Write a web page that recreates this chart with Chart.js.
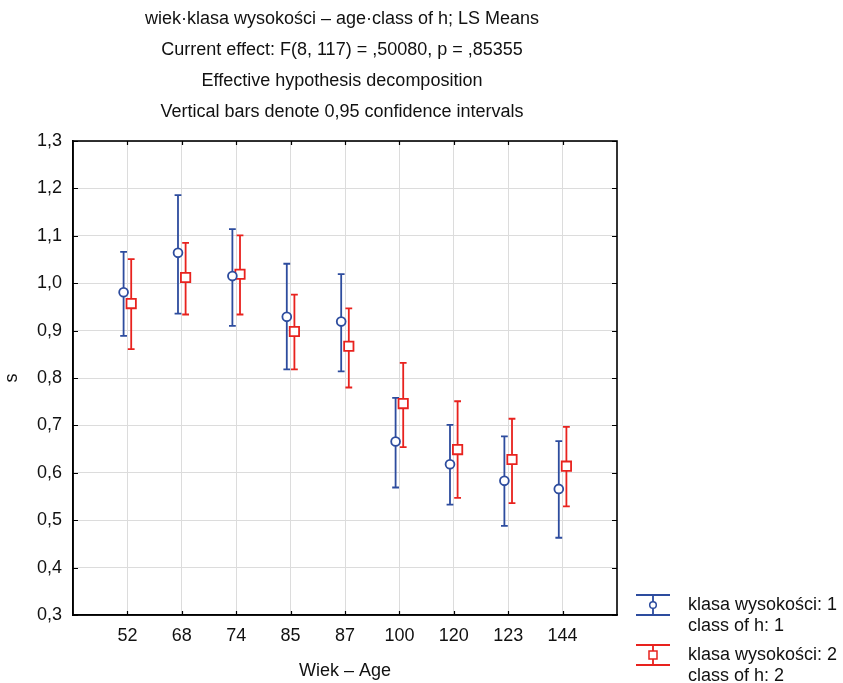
<!DOCTYPE html>
<html>
<head>
<meta charset="utf-8">
<script src="https://cdn.jsdelivr.net/npm/chart.js@4/dist/chart.umd.min.js"></script>
<style>
  html, body { margin: 0; padding: 0; background: #fff; }
  #wrap { width: 843px; height: 683px; position: relative; }
</style>
</head>
<body>
<div id="wrap"><canvas id="c"></canvas></div>
<script>
// ── 数据 ──
const ages  = ['52', '68', '74', '85', '87', '100', '120', '123', '144'];
const mean1 = [0.981, 1.064, 1.015, 0.929, 0.919, 0.666, 0.618, 0.583, 0.566];
const low1  = [0.889, 0.936, 0.910, 0.818, 0.814, 0.569, 0.533, 0.488, 0.463];
const high1 = [1.066, 1.186, 1.114, 1.041, 1.019, 0.758, 0.701, 0.677, 0.667];
const mean2 = [0.957, 1.012, 1.019, 0.898, 0.867, 0.746, 0.649, 0.628, 0.614];
const low2  = [0.861, 0.934, 0.934, 0.818, 0.780, 0.654, 0.547, 0.536, 0.529];
const high2 = [1.051, 1.085, 1.101, 0.976, 0.947, 0.832, 0.751, 0.714, 0.697];
const yTicks = [0.3, 0.4, 0.5, 0.6, 0.7, 0.8, 0.9, 1.0, 1.1, 1.2, 1.3];

const titleLines = [
  'wiek·klasa wysokości – age·class of h; LS Means',
  'Current effect: F(8, 117) = ,50080, p = ,85355',
  'Effective hypothesis decomposition',
  'Vertical bars denote 0,95 confidence intervals',
];
const legendLabels = [
  ['klasa wysokości: 1', 'class of h: 1'],
  ['klasa wysokości: 2', 'class of h: 2'],
];

const BLUE = '#2d4c9e';
const RED  = '#e8221e';
const FONT = '"Liberation Sans", Arial, sans-serif';
const FS = 18;
const SHIFT = 0.07;   // 两组在同一类别内的水平错开

const fmtComma = v => v.toFixed(1).replace('.', ',');

const errLo = [low1, low2];
const errHi = [high1, high2];

// 误差棒 + 内向刻度 + 边框 + 标题 + 图例
const decoPlugin = {
  id: 'deco',
  beforeDatasetsDraw(chart) {
    const { ctx, scales: { x, y } } = chart;
    ctx.save();
    chart.data.datasets.forEach((ds, di) => {
      ctx.strokeStyle = ds.borderColor;
      ctx.lineWidth = 1.8;
      ds.data.forEach((p, i) => {
        const px = x.getPixelForValue(p.x);
        const yt = y.getPixelForValue(errHi[di][i]);
        const yb = y.getPixelForValue(errLo[di][i]);
        ctx.beginPath();
        ctx.moveTo(px, yt); ctx.lineTo(px, yb);
        ctx.moveTo(px - 3.4, yt); ctx.lineTo(px + 3.4, yt);
        ctx.moveTo(px - 3.4, yb); ctx.lineTo(px + 3.4, yb);
        ctx.stroke();
      });
    });
    ctx.restore();
  },
  afterDraw(chart) {
    const { ctx, chartArea: a, scales: { x, y } } = chart;
    ctx.save();
    // 边框
    ctx.strokeStyle = '#000';
    ctx.lineWidth = 1.6;
    ctx.strokeRect(a.left, a.top, a.right - a.left, a.bottom - a.top);
    // 内向刻度
    ctx.lineWidth = 1.2;
    ctx.beginPath();
    x.ticks.forEach(t => {
      if (t.value < 1 || t.value > ages.length) return;
      const px = Math.round(x.getPixelForValue(t.value)) + 0.5;
      ctx.moveTo(px, a.bottom); ctx.lineTo(px, a.bottom - 4);
      ctx.moveTo(px, a.top);    ctx.lineTo(px, a.top + 4);
    });
    yTicks.forEach(v => {
      const py = Math.round(y.getPixelForValue(v)) + 0.5;
      ctx.moveTo(a.left, py);  ctx.lineTo(a.left + 5, py);
      ctx.moveTo(a.right, py); ctx.lineTo(a.right - 5, py);
    });
    ctx.stroke();

    // 标题
    ctx.fillStyle = '#111';
    ctx.font = FS + 'px ' + FONT;
    ctx.textAlign = 'center';
    ctx.textBaseline = 'middle';
    const cx = (a.left + a.right) / 2 - 3;
    titleLines.forEach((s, i) => ctx.fillText(s, cx, 19 + i * 31));

    // 图例
    const colors = [BLUE, RED];
    ctx.textAlign = 'left';
    [605, 655].forEach((cy, i) => {
      ctx.strokeStyle = colors[i];
      ctx.lineWidth = 1.8;
      ctx.beginPath();
      ctx.moveTo(636, cy - 10); ctx.lineTo(670, cy - 10);
      ctx.moveTo(636, cy + 10); ctx.lineTo(670, cy + 10);
      ctx.moveTo(653, cy - 10); ctx.lineTo(653, cy + 10);
      ctx.stroke();
      ctx.fillStyle = '#fff';
      ctx.lineWidth = 1.5;
      ctx.beginPath();
      if (i === 0) ctx.arc(653, cy, 3.3, 0, Math.PI * 2);
      else ctx.rect(649, cy - 4, 8, 8);
      ctx.fill(); ctx.stroke();
      ctx.fillStyle = '#111';
      ctx.fillText(legendLabels[i][0], 688, cy);
      ctx.fillText(legendLabels[i][1], 688, cy + 21);
    });
    ctx.restore();
  },
};

new Chart(document.getElementById('c'), {
  type: 'scatter',
  data: {
    datasets: [
      {
        label: 'klasa wysokości: 1',
        data: ages.map((a, i) => ({ x: i + 1 - SHIFT, y: mean1[i] })),
        pointStyle: 'circle',
        pointRadius: 4.4,
        borderWidth: 1.8,
        borderColor: BLUE,
        backgroundColor: '#fff',
      },
      {
        label: 'klasa wysokości: 2',
        data: ages.map((a, i) => ({ x: i + 1 + SHIFT, y: mean2[i] })),
        pointStyle: 'rect',
        pointRadius: 6.6,
        borderWidth: 1.8,
        borderColor: RED,
        backgroundColor: '#fff',
      },
    ],
  },
  options: {
    responsive: true,
    maintainAspectRatio: false,
    devicePixelRatio: 1,
    animation: false,
    layout: { padding: { top: 141, right: 226, left: 0, bottom: 0 } },
    plugins: { legend: { display: false }, tooltip: { enabled: false }, title: { display: false } },
    scales: {
      x: {
        type: 'linear',
        min: 0, max: ages.length + 1,
        afterFit: s => { s.height = 68; },
        afterBuildTicks: s => { s.ticks = ages.map((a, i) => ({ value: i + 1 })); },
        ticks: {
          stepSize: 1,
          autoSkip: false,
          maxRotation: 0,
          padding: 10,
          color: '#111',
          font: { family: FONT, size: FS },
          callback: v => ages[v - 1] ?? '',
        },
        grid: { color: '#dcdcdc', lineWidth: 1, drawTicks: false },
        border: { display: true, color: '#000', width: 1.6 },
        title: {
          display: true, text: 'Wiek – Age', color: '#111',
          font: { family: FONT, size: FS }, padding: { top: 0, bottom: 1 },
        },
      },
      y: {
        min: 0.3, max: 1.3,
        afterFit: s => { s.width = 73; },
        afterBuildTicks: s => { s.ticks = yTicks.map(v => ({ value: v })); },
        ticks: {
          padding: 11,
          color: '#111',
          font: { family: FONT, size: FS },
          callback: v => fmtComma(v),
        },
        grid: { color: '#dcdcdc', lineWidth: 1, drawTicks: false },
        border: { display: true, color: '#000', width: 1.6 },
        title: {
          display: true, text: 's', color: '#111',
          font: { family: FONT, size: FS }, padding: { top: 1, bottom: 0 },
        },
      },
    },
  },
  plugins: [decoPlugin],
});
</script>
</body>
</html>
